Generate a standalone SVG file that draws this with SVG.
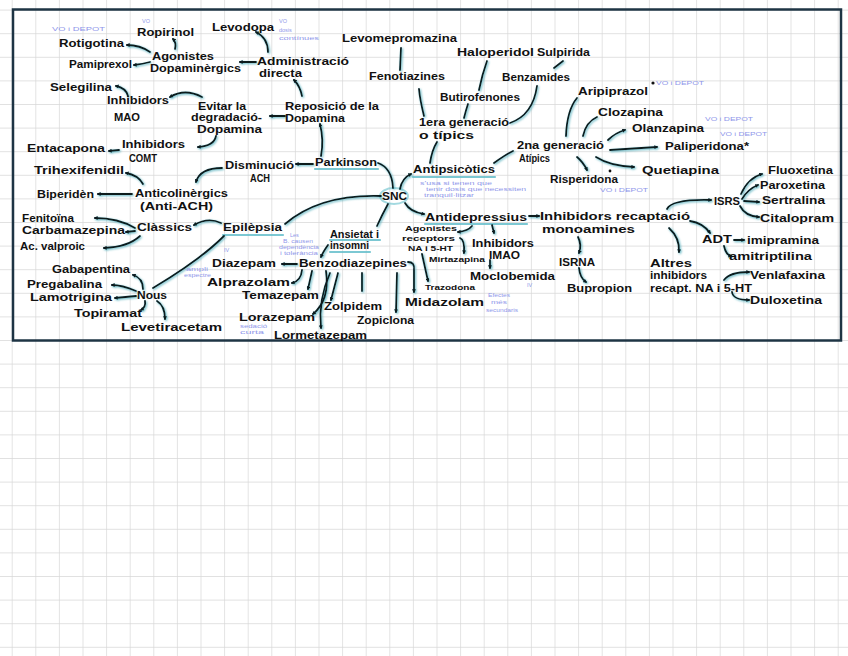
<svg xmlns="http://www.w3.org/2000/svg" width="848" height="656" viewBox="0 0 848 656">
<style>
.t{font-family:"Liberation Sans",Arial,sans-serif;font-size:10.5px;font-weight:bold;fill:#111}
.s{font-family:"Liberation Sans",Arial,sans-serif;font-size:7.5px;font-weight:bold;fill:#111}
.b{font-family:"Liberation Sans",Arial,sans-serif;font-size:5.5px;fill:#8f97ea}
.c path{fill:none;stroke:#0d1a1f;stroke-width:1.8;stroke-linecap:round}
.h{marker-end:url(#ah)}
.u{stroke:#66bfcc;stroke-width:2.2;stroke-linecap:round;opacity:.85}
</style>
<defs>
<pattern id="grid" patternUnits="userSpaceOnUse" x="11.7" y="9.6" width="23.6" height="23.6">
<path d="M0,0 H23.6 M0,0 V23.6" stroke="#d8d8d8" stroke-width="1.4" fill="none"/>
</pattern>
<marker id="ah" viewBox="0 0 6 6" refX="4" refY="3" markerWidth="4" markerHeight="4" orient="auto" markerUnits="userSpaceOnUse">
<path d="M0,0 L6,3 L0,6 Z" fill="#0d1a1f"/>
</marker>
<filter id="glow" x="-10%" y="-10%" width="120%" height="120%">
<feGaussianBlur in="SourceAlpha" stdDeviation="1.3" result="b"/>
<feFlood flood-color="#3fa6b5" flood-opacity="0.85"/>
<feComposite in2="b" operator="in"/>
<feOffset dx="0.8" dy="1"/>
<feMerge><feMergeNode/><feMergeNode in="SourceGraphic"/></feMerge>
</filter>
</defs>
<rect width="848" height="656" fill="#fff"/>
<rect width="848" height="656" fill="url(#grid)"/>
<rect x="13" y="9.5" width="828" height="331" fill="none" stroke="#1e3444" stroke-width="2.5"/>

<g id="underlines">
<line class="u" x1="315" y1="169" x2="378" y2="169"/>
<line class="u" x1="413" y1="177" x2="495" y2="177"/>
<line class="u" x1="425" y1="224" x2="527" y2="224"/>
<line class="u" x1="223" y1="235" x2="283" y2="235"/>
<line class="u" x1="330" y1="240" x2="380" y2="240"/>
<line class="u" x1="330" y1="252" x2="370" y2="252"/>
<ellipse cx="394" cy="196" rx="14" ry="8" fill="none" stroke="#66bfcc" stroke-width="2" opacity=".6"/>
</g>

<g id="connectors" class="c" filter="url(#glow)">
<path class="h" d="M150,52 Q140,45 127,45"/>
<path class="h" d="M175,49 C176,45 176,42 173,39"/>
<path class="h" d="M150,62 Q143,64 134,65"/>
<path class="h" d="M256,62 L240,62"/>
<path class="h" d="M268,52 Q268,38 256,32"/>
<path class="h" d="M302,96 Q300,86 294,80"/>
<path class="h" d="M285,116 L270,116"/>
<path class="h" d="M321,156 Q324,140 320,124"/>
<path class="h" d="M313,164 L296,164"/>
<path class="h" d="M202,97 Q185,88 170,97"/>
<path class="h" d="M216,136 Q214,146 198,147"/>
<path class="h" d="M128,96 Q126,88 116,86"/>
<path class="h" d="M119,150 L109,151"/>
<path class="h" d="M222,168 Q200,168 196,182"/>
<path class="h" d="M143,184 Q138,175 126,173"/>
<path class="h" d="M132,194 L98,194"/>
<path d="M378,163 Q392,168 393,188"/>
<path class="h" d="M400,189 Q402,178 411,174"/>
<path class="h" d="M405,203 Q410,212 424,214"/>
<path d="M388,204 Q382,215 377,226"/>
<path d="M381,196 Q320,194 285,224"/>
<path class="h" d="M221,223 Q208,217 194,225"/>
<path d="M224,236 Q200,260 153,288"/>
<path class="h" d="M135,228 Q118,218 95,218"/>
<path class="h" d="M135,231 L126,232"/>
<path class="h" d="M140,236 Q128,247 104,248"/>
<path class="h" d="M143,289 Q143,278 133,275"/>
<path class="h" d="M136,291 Q122,285 112,285"/>
<path class="h" d="M136,296 L115,298"/>
<path class="h" d="M145,301 Q146,307 141,310"/>
<path class="h" d="M157,301 Q165,306 165,319"/>
<path class="h" d="M328,245 Q323,252 321,257"/>
<path class="h" d="M297,264 L282,264"/>
<path class="h" d="M302,270 Q301,281 292,283"/>
<path class="h" d="M312,271 L308,289"/>
<path class="h" d="M326,271 Q330,300 313,314"/>
<path class="h" d="M330,273 Q318,300 321,328"/>
<path class="h" d="M338,273 L331,300"/>
<path d="M362,273 L362,291"/>
<path class="h" d="M397,273 L396,312"/>
<path class="h" d="M408,262 Q415,262 414,270 L414,292"/>
<path class="h" d="M529,216 L539,216"/>
<path class="h" d="M472,226 Q468,231 458,232"/>
<path class="h" d="M492,225 L494,233"/>
<path class="h" d="M490,260 L490,268"/>
<path class="h" d="M460,238 Q465,240 464,253"/>
<path class="h" d="M422,254 L428,281"/>
<path class="h" d="M578,237 Q582,245 579,253"/>
<path class="h" d="M579,268 Q580,278 586,282"/>
<path class="h" d="M667,209 Q672,199 711,200"/>
<path class="h" d="M690,221 Q703,223 710,233"/>
<path class="h" d="M669,228 Q680,238 679,252"/>
<path class="h" d="M741,194 Q748,178 762,174"/>
<path class="h" d="M742,199 Q748,189 758,185"/>
<path class="h" d="M744,201 L759,202"/>
<path class="h" d="M740,206 Q745,216 759,217"/>
<path class="h" d="M734,240 L744,240"/>
<path class="h" d="M724,246 Q726,255 731,256"/>
<path class="h" d="M724,280 Q730,272 749,272"/>
<path class="h" d="M732,292 Q733,300 749,300"/>
<path d="M430,163 Q432,150 437,142"/>
<path d="M424,116 Q420,100 419,89"/>
<path d="M400,70 L401,48"/>
<path d="M464,118 Q466,110 468,104"/>
<path d="M479,90 Q482,75 487,61"/>
<path d="M510,123 Q533,115 537,86"/>
<path d="M554,68 L563,61"/>
<path d="M494,163 Q505,155 513,151"/>
<path d="M566,136 Q567,110 577,98"/>
<path d="M583,136 Q586,122 597,117"/>
<path class="h" d="M608,140 Q615,133 625,130"/>
<path class="h" d="M610,150 L657,147"/>
<path class="h" d="M596,157 Q610,166 634,167"/>
<path class="h" d="M577,157 Q583,162 587,170"/>
</g>

<g id="n-ropirinol"><text class="t" x="137" y="36" textLength="57" lengthAdjust="spacingAndGlyphs">Ropirinol</text></g>
<g id="n-levodopa"><text class="t" x="212" y="31" textLength="62" lengthAdjust="spacingAndGlyphs">Levodopa</text></g>
<g id="n-rotigotina"><text class="t" x="59" y="47" textLength="65" lengthAdjust="spacingAndGlyphs">Rotigotina</text></g>
<g id="n-agonistes"><text class="t" x="152" y="60" textLength="62" lengthAdjust="spacingAndGlyphs">Agonistes</text><text class="t" x="150" y="72" textLength="91" lengthAdjust="spacingAndGlyphs">Dopaminèrgics</text></g>
<g id="n-pamiprexol"><text class="t" x="69" y="68" textLength="63" lengthAdjust="spacingAndGlyphs">Pamiprexol</text></g>
<g id="n-selegilina"><text class="t" x="50" y="91" textLength="62" lengthAdjust="spacingAndGlyphs">Selegilina</text></g>
<g id="n-imao1"><text class="t" x="107" y="104" textLength="62" lengthAdjust="spacingAndGlyphs">Inhibidors</text><text class="t" x="114" y="121" textLength="26" lengthAdjust="spacingAndGlyphs">MAO</text></g>
<g id="n-evitar"><text class="t" x="198" y="110" textLength="48" lengthAdjust="spacingAndGlyphs">Evitar la</text><text class="t" x="191" y="121" textLength="71" lengthAdjust="spacingAndGlyphs">degradació-</text><text class="t" x="197" y="133" textLength="65" lengthAdjust="spacingAndGlyphs">Dopamina</text></g>
<g id="n-comt"><text class="t" x="122" y="148" textLength="63" lengthAdjust="spacingAndGlyphs">Inhibidors</text><text class="t" x="129" y="162" textLength="28" lengthAdjust="spacingAndGlyphs">COMT</text></g>
<g id="n-entacapona"><text class="t" x="27" y="152" textLength="78" lengthAdjust="spacingAndGlyphs">Entacapona</text></g>
<g id="n-trihexifenidil"><text class="t" x="34" y="174" textLength="90" lengthAdjust="spacingAndGlyphs">Trihexifenidil</text></g>
<g id="n-administracio"><text class="t" x="257" y="65" textLength="92" lengthAdjust="spacingAndGlyphs">Administració</text><text class="t" x="259" y="77" textLength="43" lengthAdjust="spacingAndGlyphs">directa</text></g>
<g id="n-reposicio"><text class="t" x="285" y="110" textLength="94" lengthAdjust="spacingAndGlyphs">Reposició de la</text><text class="t" x="285" y="122" textLength="60" lengthAdjust="spacingAndGlyphs">Dopamina</text></g>
<g id="n-parkinson"><text class="t" x="315" y="166" textLength="62" lengthAdjust="spacingAndGlyphs">Parkinson</text></g>
<g id="n-disminucio"><text class="t" x="225" y="169" textLength="69" lengthAdjust="spacingAndGlyphs">Disminució</text><text class="t" x="250" y="182" textLength="20" lengthAdjust="spacingAndGlyphs">ACH</text></g>
<g id="n-levomepromazina"><text class="t" x="342" y="42" textLength="115" lengthAdjust="spacingAndGlyphs">Levomepromazina</text></g>
<g id="n-fenotiazines"><text class="t" x="369" y="80" textLength="76" lengthAdjust="spacingAndGlyphs">Fenotiazines</text></g>
<g id="n-haloperidol"><text class="t" x="457" y="56" textLength="77" lengthAdjust="spacingAndGlyphs">Haloperidol</text></g>
<g id="n-sulpirida"><text class="t" x="537" y="56" textLength="53" lengthAdjust="spacingAndGlyphs">Sulpirida</text></g>
<g id="n-butirofenones"><text class="t" x="440" y="101" textLength="80" lengthAdjust="spacingAndGlyphs">Butirofenones</text></g>
<g id="n-benzamides"><text class="t" x="502" y="81" textLength="68" lengthAdjust="spacingAndGlyphs">Benzamides</text></g>
<g id="n-1era"><text class="t" x="419" y="126" textLength="90" lengthAdjust="spacingAndGlyphs">1era generació</text><text class="t" x="419" y="139" textLength="55" lengthAdjust="spacingAndGlyphs">o típics</text></g>
<g id="n-antipsicotics"><text class="t" x="413" y="173" textLength="82" lengthAdjust="spacingAndGlyphs">Antipsicòtics</text></g>
<g id="n-2na"><text class="t" x="517" y="149" textLength="87" lengthAdjust="spacingAndGlyphs">2na generació</text><text class="t" x="519" y="162" textLength="31" lengthAdjust="spacingAndGlyphs">Atípics</text></g>
<g id="n-aripiprazol"><text class="t" x="578" y="95" textLength="70" lengthAdjust="spacingAndGlyphs">Aripiprazol</text><circle cx="653" cy="83" r="1.6" fill="#111"/></g>
<g id="n-clozapina"><text class="t" x="598" y="116" textLength="65" lengthAdjust="spacingAndGlyphs">Clozapina</text></g>
<g id="n-olanzapina"><text class="t" x="632" y="132" textLength="72" lengthAdjust="spacingAndGlyphs">Olanzapina</text></g>
<g id="n-paliperidona"><text class="t" x="665" y="150" textLength="84" lengthAdjust="spacingAndGlyphs">Paliperidona*</text></g>
<g id="n-quetiapina"><text class="t" x="642" y="174" textLength="77" lengthAdjust="spacingAndGlyphs">Quetiapina</text></g>
<g id="n-risperidona"><text class="t" x="550" y="183" textLength="68" lengthAdjust="spacingAndGlyphs">Risperidona</text><circle cx="610" cy="171" r="1.4" fill="#111"/></g>
<g id="n-anticolinergics"><text class="t" x="135" y="197" textLength="93" lengthAdjust="spacingAndGlyphs">Anticolinèrgics</text><text class="t" x="140" y="210" textLength="73" lengthAdjust="spacingAndGlyphs">(Anti-ACH)</text></g>
<g id="n-biperiden"><text class="t" x="37" y="198" textLength="57" lengthAdjust="spacingAndGlyphs">Biperidèn</text></g>
<g id="n-fenitoina"><text class="t" x="22" y="222" textLength="52" lengthAdjust="spacingAndGlyphs">Fenitoïna</text></g>
<g id="n-carbamazepina"><text class="t" x="22" y="234" textLength="103" lengthAdjust="spacingAndGlyphs">Carbamazepina</text></g>
<g id="n-valproic"><text class="t" x="20" y="250" textLength="65" lengthAdjust="spacingAndGlyphs">Ac. valproic</text></g>
<g id="n-classics"><text class="t" x="137" y="231" textLength="55" lengthAdjust="spacingAndGlyphs">Clàssics</text></g>
<g id="n-epilepsia"><text class="t" x="223" y="231" textLength="59" lengthAdjust="spacingAndGlyphs">Epilèpsia</text></g>
<g id="n-gabapentina"><text class="t" x="52" y="273" textLength="78" lengthAdjust="spacingAndGlyphs">Gabapentina</text></g>
<g id="n-pregabalina"><text class="t" x="27" y="288" textLength="75" lengthAdjust="spacingAndGlyphs">Pregabalina</text></g>
<g id="n-lamotrigina"><text class="t" x="30" y="301" textLength="82" lengthAdjust="spacingAndGlyphs">Lamotrigina</text></g>
<g id="n-topiramat"><text class="t" x="74" y="317" textLength="68" lengthAdjust="spacingAndGlyphs">Topiramat</text></g>
<g id="n-levetiracetam"><text class="t" x="121" y="331" textLength="101" lengthAdjust="spacingAndGlyphs">Levetiracetam</text></g>
<g id="n-nous"><text class="t" x="137" y="299" textLength="30" lengthAdjust="spacingAndGlyphs">Nous</text></g>
<g id="n-snc"><text class="t" x="382" y="200" textLength="25" lengthAdjust="spacingAndGlyphs">SNC</text></g>
<g id="n-ansietat"><text class="t" x="330" y="238" textLength="49" lengthAdjust="spacingAndGlyphs">Ansietat i</text><text class="t" x="330" y="249" textLength="39" lengthAdjust="spacingAndGlyphs">insomni</text></g>
<g id="n-diazepam"><text class="t" x="212" y="267" textLength="64" lengthAdjust="spacingAndGlyphs">Diazepam</text></g>
<g id="n-benzodiazepines"><text class="t" x="299" y="267" textLength="108" lengthAdjust="spacingAndGlyphs">Benzodiazepines</text></g>
<g id="n-alprazolam"><text class="t" x="207" y="286" textLength="83" lengthAdjust="spacingAndGlyphs">Alprazolam</text></g>
<g id="n-temazepam"><text class="t" x="242" y="299" textLength="77" lengthAdjust="spacingAndGlyphs">Temazepam</text></g>
<g id="n-zolpidem"><text class="t" x="324" y="310" textLength="58" lengthAdjust="spacingAndGlyphs">Zolpidem</text></g>
<g id="n-lorazepam"><text class="t" x="239" y="321" textLength="76" lengthAdjust="spacingAndGlyphs">Lorazepam</text></g>
<g id="n-lormetazepam"><text class="t" x="274" y="339" textLength="93" lengthAdjust="spacingAndGlyphs">Lormetazepam</text></g>
<g id="n-zopiclona"><text class="t" x="357" y="324" textLength="57" lengthAdjust="spacingAndGlyphs">Zopiclona</text></g>
<g id="n-midazolam"><text class="t" x="405" y="306" textLength="79" lengthAdjust="spacingAndGlyphs">Midazolam</text></g>
<g id="n-antidepressius"><text class="t" x="425" y="221" textLength="102" lengthAdjust="spacingAndGlyphs">Antidepressius</text></g>
<g id="n-recaptacio"><text class="t" x="540" y="220" textLength="150" lengthAdjust="spacingAndGlyphs">Inhibidors recaptació</text><text class="t" x="542" y="233" textLength="93" lengthAdjust="spacingAndGlyphs">monoamines</text></g>
<g id="n-agonistes-receptors"><text class="s" x="405" y="231" textLength="52" lengthAdjust="spacingAndGlyphs">Agonistes</text><text class="s" x="402" y="241" textLength="53" lengthAdjust="spacingAndGlyphs">receptors</text><text class="s" x="408" y="251" textLength="45" lengthAdjust="spacingAndGlyphs">NA i 5-HT</text></g>
<g id="n-imao2"><text class="t" x="472" y="247" textLength="62" lengthAdjust="spacingAndGlyphs">Inhibidors</text><text class="t" x="489" y="259" textLength="31" lengthAdjust="spacingAndGlyphs">IMAO</text></g>
<g id="n-moclobemida"><text class="t" x="470" y="280" textLength="85" lengthAdjust="spacingAndGlyphs">Moclobemida</text></g>
<g id="n-mirtazapina"><text class="s" x="429" y="262" textLength="56" lengthAdjust="spacingAndGlyphs">Mirtazapina</text></g>
<g id="n-trazodona"><text class="s" x="425" y="290" textLength="50" lengthAdjust="spacingAndGlyphs">Trazodona</text></g>
<g id="n-isrna"><text class="t" x="559" y="266" textLength="36" lengthAdjust="spacingAndGlyphs">ISRNA</text></g>
<g id="n-bupropion"><text class="t" x="567" y="292" textLength="65" lengthAdjust="spacingAndGlyphs">Bupropion</text></g>
<g id="n-fluoxetina"><text class="t" x="768" y="174" textLength="65" lengthAdjust="spacingAndGlyphs">Fluoxetina</text></g>
<g id="n-paroxetina"><text class="t" x="760" y="189" textLength="65" lengthAdjust="spacingAndGlyphs">Paroxetina</text></g>
<g id="n-sertralina"><text class="t" x="762" y="204" textLength="63" lengthAdjust="spacingAndGlyphs">Sertralina</text></g>
<g id="n-citalopram"><text class="t" x="760" y="222" textLength="74" lengthAdjust="spacingAndGlyphs">Citalopram</text></g>
<g id="n-isrs"><text class="t" x="714" y="205" textLength="26" lengthAdjust="spacingAndGlyphs">ISRS</text></g>
<g id="n-adt"><text class="t" x="702" y="243" textLength="30" lengthAdjust="spacingAndGlyphs">ADT</text></g>
<g id="n-imipramina"><text class="t" x="747" y="244" textLength="72" lengthAdjust="spacingAndGlyphs">imipramina</text></g>
<g id="n-amitriptilina"><text class="t" x="729" y="260" textLength="83" lengthAdjust="spacingAndGlyphs">amitriptilina</text></g>
<g id="n-altres"><text class="t" x="650" y="267" textLength="42" lengthAdjust="spacingAndGlyphs">Altres</text><text class="t" x="650" y="279" textLength="57" lengthAdjust="spacingAndGlyphs">inhibidors</text><text class="t" x="650" y="292" textLength="102" lengthAdjust="spacingAndGlyphs">recapt. NA i 5-HT</text></g>
<g id="n-venlafaxina"><text class="t" x="750" y="279" textLength="75" lengthAdjust="spacingAndGlyphs">Venlafaxina</text></g>
<g id="n-duloxetina"><text class="t" x="750" y="304" textLength="72" lengthAdjust="spacingAndGlyphs">Duloxetina</text></g>

<g id="notes">
<text class="b" x="52" y="31" textLength="53" lengthAdjust="spacingAndGlyphs">VO i DEPOT</text>
<text class="b" x="142" y="23">VO</text>
<text class="b" x="279" y="23">VO</text>
<text class="b" x="279" y="32">dosis</text>
<text class="b" x="279" y="40" textLength="40" lengthAdjust="spacingAndGlyphs">contínues</text>
<text class="b" x="656" y="85" textLength="48" lengthAdjust="spacingAndGlyphs">VO i DEPOT</text>
<text class="b" x="705" y="121" textLength="48" lengthAdjust="spacingAndGlyphs">VO i DEPOT</text>
<text class="b" x="720" y="136" textLength="47" lengthAdjust="spacingAndGlyphs">VO i DEPOT</text>
<text class="b" x="600" y="192" textLength="48" lengthAdjust="spacingAndGlyphs">VO i DEPOT</text>
<text class="b" x="420" y="185" textLength="72" lengthAdjust="spacingAndGlyphs">s'usa si tenen que</text>
<text class="b" x="426" y="191" textLength="100" lengthAdjust="spacingAndGlyphs">tenir dosis que necessiten</text>
<text class="b" x="424" y="197" textLength="50" lengthAdjust="spacingAndGlyphs">tranquil·litzar</text>
<text class="b" x="290" y="237">Les</text>
<text class="b" x="283" y="243" textLength="30" lengthAdjust="spacingAndGlyphs">B. causen</text>
<text class="b" x="279" y="249" textLength="40" lengthAdjust="spacingAndGlyphs">dependència</text>
<text class="b" x="280" y="255" textLength="38" lengthAdjust="spacingAndGlyphs">i tolerància</text>
<text class="b" x="224" y="252">IV</text>
<text class="b" x="186" y="271" textLength="22" lengthAdjust="spacingAndGlyphs">ampli</text>
<text class="b" x="184" y="277" textLength="27" lengthAdjust="spacingAndGlyphs">espectre</text>
<text class="b" x="240" y="328" textLength="27" lengthAdjust="spacingAndGlyphs">sedació</text>
<text class="b" x="240" y="334" textLength="24" lengthAdjust="spacingAndGlyphs">curta</text>
<text class="b" x="488" y="297" textLength="22" lengthAdjust="spacingAndGlyphs">Efectes</text>
<text class="b" x="491" y="304" textLength="16" lengthAdjust="spacingAndGlyphs">més</text>
<text class="b" x="486" y="312" textLength="32" lengthAdjust="spacingAndGlyphs">secundaris</text>
<text class="b" x="527" y="287">IV</text>
</g>
</svg>
